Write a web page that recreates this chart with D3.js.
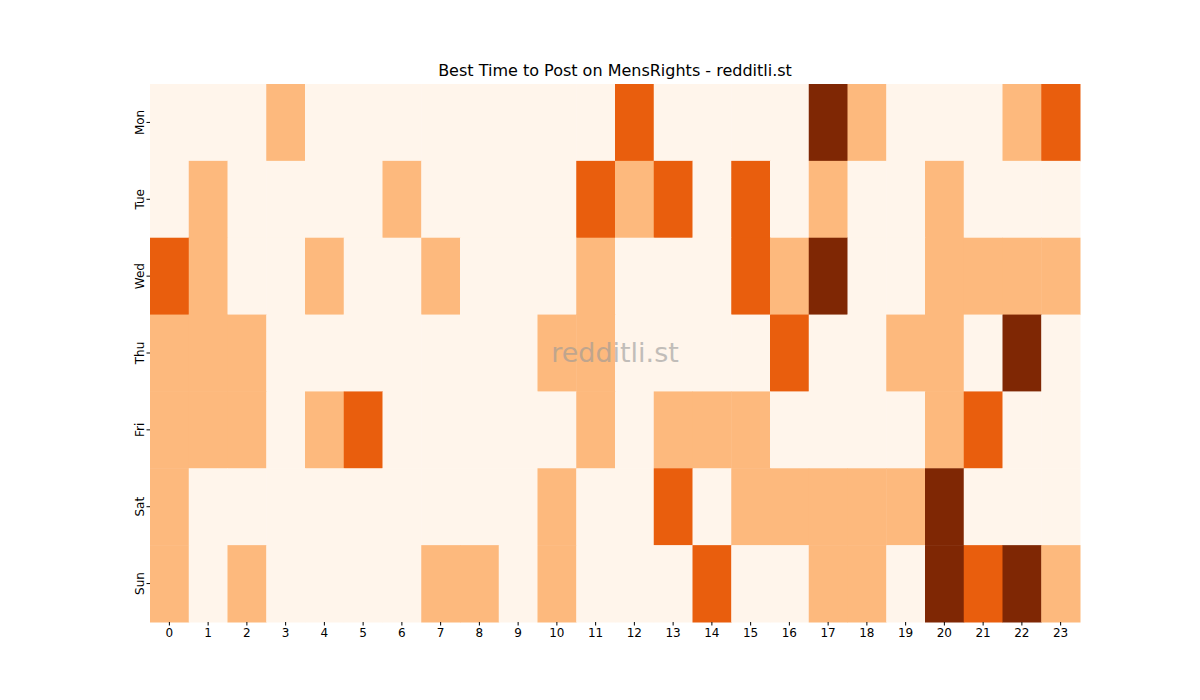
<!DOCTYPE html>
<html><head><meta charset="utf-8">
<script src="https://cdn.jsdelivr.net/npm/d3@7"></script>
<style>body{margin:0;background:#fff}text{font-family:"DejaVu Sans",sans-serif}</style>
</head><body><svg id="c" width="1200" height="700"></svg>
<script>
const days = ["Mon","Tue","Wed","Thu","Fri","Sat","Sun"];
const hours = d3.range(24).map(String);
const mon = [0,0,0,1,0,0,0,0,0,0,0,0,2,0,0,0,0,3,1,0,0,0,1,2];
const tue = [0,1,0,0,0,0,1,0,0,0,0,2,1,2,0,2,0,1,0,0,1,0,0,0];
const wed = [2,1,0,0,1,0,0,1,0,0,0,1,0,0,0,2,1,3,0,0,1,1,1,1];
const thu = [1,1,1,0,0,0,0,0,0,0,1,1,0,0,0,0,2,0,0,1,1,0,3,0];
const fri = [1,1,1,0,1,2,0,0,0,0,0,1,0,1,1,1,0,0,0,0,1,2,0,0];
const sat = [1,0,0,0,0,0,0,0,0,0,1,0,0,2,0,1,1,1,1,1,3,0,0,0];
const sun = [1,0,1,0,0,0,0,1,1,0,1,0,0,0,2,0,0,1,1,0,3,2,3,1];
const rows = [mon,tue,wed,thu,fri,sat,sun];
const colors = ["#fff5eb","#fdb97d","#e95e0d","#7f2704"];

const svg = d3.select("#c");
const x = d3.scaleBand().domain(hours).range([150,1080]);
const y = d3.scaleBand().domain(days).range([84,622]);
const cells = [];
rows.forEach((r,i)=>r.forEach((v,j)=>cells.push({d:days[i],h:hours[j],v})));
svg.selectAll("rect.cell").data(cells).join("rect")
  .attr("x",d=>x(d.h)).attr("y",d=>y(d.d))
  .attr("width",x.bandwidth()+0.5).attr("height",y.bandwidth()+0.5)
  .attr("fill",d=>colors[d.v]);

const xa = svg.append("g").attr("transform","translate(0,622)").call(d3.axisBottom(x).tickSizeOuter(0).tickSize(3.5));
xa.select(".domain").remove();
xa.selectAll("text").attr("font-size",12).attr("font-family","DejaVu Sans").attr("fill","#000");
const ya = svg.append("g").attr("transform","translate(150,0)").call(d3.axisLeft(y).tickSizeOuter(0).tickSize(3.5));
ya.select(".domain").remove();
ya.selectAll("text").attr("font-size",12).attr("font-family","DejaVu Sans").attr("fill","#000")
  .attr("transform","rotate(-90)").attr("x",0).attr("y",-9).attr("dy","0")
  .attr("text-anchor","middle")
  .attr("transform","rotate(-90) translate(0,-5)");
ya.selectAll("text").attr("transform",null).each(function(){
  const t=d3.select(this); t.attr("transform","translate(-10,0) rotate(-90)").attr("x",0).attr("y",0).attr("dy","0.35em");
});
svg.append("text").attr("x",615).attr("y",76).attr("text-anchor","middle").attr("font-size",16).text("Best Time to Post on MensRights - redditli.st");
svg.append("text").attr("x",615).attr("y",362).attr("text-anchor","middle").attr("font-size",27).attr("fill","#999").attr("opacity",0.6).text("redditli.st");
</script></body></html>
